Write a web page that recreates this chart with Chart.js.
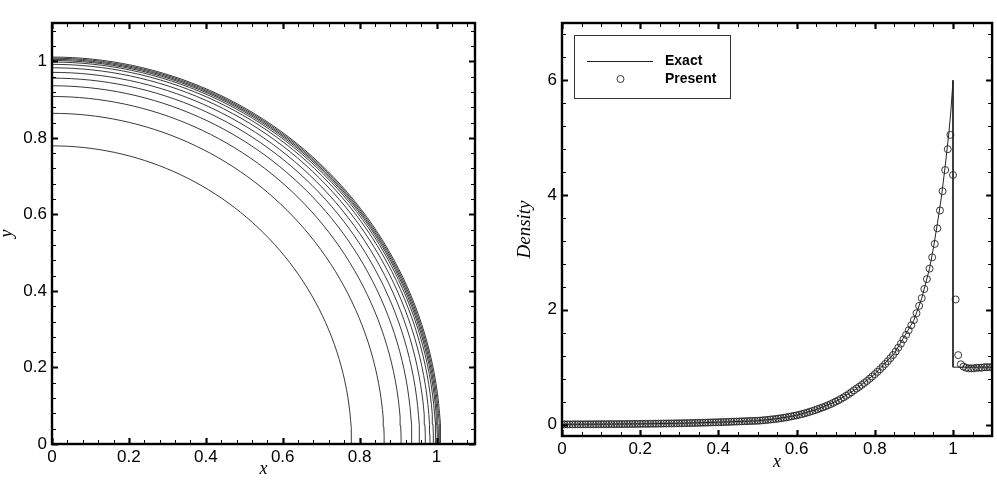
<!DOCTYPE html>
<html lang="en">
<head>
<meta charset="utf-8">
<title>Blast wave density contours and radial density profile</title>
<script src="https://cdn.jsdelivr.net/npm/chart.js"></script>
<style>
  html, body { margin: 0; padding: 0; background: #fff; }
  #wrap { position: relative; width: 997px; height: 492px; }
  #left { position: absolute; left: 0; top: 0; }
  #right { position: absolute; left: 497px; top: 0; }
</style>
</head>
<body>
<div id="wrap">
  <canvas id="left" width="497" height="492"></canvas>
  <canvas id="right" width="500" height="492"></canvas>
</div>
<script>
// left panel: radii of the density contour lines (quarter circles)
const contourRadii = [0.779, 0.864, 0.908, 0.936, 0.956, 0.971, 0.983, 0.992, 0.998, 1.002, 1.005, 1.008, 1.011];

// right panel: exact solution
const exactX = [0, 0.1, 0.2, 0.3, 0.4, 0.5, 0.55, 0.6, 0.65, 0.7, 0.75, 0.8, 0.85, 0.9, 0.92, 0.94, 0.95, 0.96, 0.97, 0.98, 0.99, 0.995, 1.0, 1.0, 1.1];
const exactRho = [0.003, 0.006, 0.012, 0.022, 0.04, 0.065, 0.1, 0.16, 0.26, 0.40, 0.61, 0.88, 1.24, 1.82, 2.2, 2.72, 3.08, 3.5, 3.95, 4.5, 5.12, 5.5, 6.0, 1.0, 1.0];

// right panel: computed ("Present") density, one value per cell, cell size 1/150
const presentDx = 1 / 150;
const presentRho = [
  0.003,0.003,0.003,0.003,0.003,0.004,0.004,0.004,0.004,0.004,0.005,0.005,0.005,0.005,0.006,
  0.006,0.006,0.006,0.007,0.007,0.007,0.008,0.008,0.008,0.009,0.009,0.010,0.010,0.011,0.011,
  0.012,0.012,0.013,0.013,0.014,0.014,0.015,0.016,0.016,0.017,0.018,0.019,0.019,0.020,0.021,
  0.022,0.023,0.024,0.025,0.026,0.027,0.028,0.029,0.030,0.031,0.033,0.034,0.036,0.037,0.039,
  0.040,0.042,0.043,0.045,0.047,0.048,0.050,0.052,0.054,0.056,0.058,0.059,0.061,0.062,0.064,
  0.065,0.069,0.073,0.077,0.082,0.087,0.092,0.097,0.103,0.110,0.117,0.125,0.133,0.142,0.151,
  0.160,0.171,0.182,0.194,0.207,0.221,0.235,0.251,0.267,0.283,0.299,0.317,0.336,0.355,0.376,
  0.399,0.422,0.447,0.473,0.501,0.531,0.562,0.595,0.628,0.658,0.691,0.725,0.760,0.798,0.837,
  0.878,0.919,0.963,1.008,1.055,1.105,1.157,1.212,1.272,1.339,1.409,1.484,1.562,1.644,1.731,
  1.822,1.941,2.068,2.203,2.363,2.535,2.718,2.915,3.149,3.421,3.732,4.068,4.437,4.80,5.05,
  4.35,2.18,1.21,1.05,1.01,0.99,0.98,0.98,0.98,0.99,0.99,0.99,1.00,1.00,1.00,1.00
];

const legendLabels = ['Exact', 'Present'];

const tickFont = { family: 'Liberation Sans', size: 17 };
const titleFont = { family: 'Liberation Serif', size: 18, style: 'italic' };
const ink = '#222';

// tecplot-like frame: heavy border with inward ticks on all four sides
const frameTicks = {
  id: 'frameTicks',
  afterDraw(chart, args, o) {
    const { ctx, chartArea: a, scales: { x, y } } = chart;
    const marks = (sc, step) => {
      const out = [];
      const k0 = Math.ceil(sc.min / step - 1e-6);
      for (let k = k0; k * step <= sc.max + 1e-9; k++) out.push(k * step);
      return out;
    };
    ctx.save();
    ctx.strokeStyle = '#000';
    const drawSet = (major, len, lw) => {
      ctx.lineWidth = lw;
      ctx.beginPath();
      marks(x, major ? o.xMajor : o.xMinor).forEach(v => {
        const p = Math.round(x.getPixelForValue(v)) + 0.5;
        ctx.moveTo(p, a.bottom); ctx.lineTo(p, a.bottom - len);
        ctx.moveTo(p, a.top); ctx.lineTo(p, a.top + len);
      });
      marks(y, major ? o.yMajor : o.yMinor).forEach(v => {
        const p = Math.round(y.getPixelForValue(v)) + 0.5;
        ctx.moveTo(a.left, p); ctx.lineTo(a.left + len, p);
        ctx.moveTo(a.right, p); ctx.lineTo(a.right - len, p);
      });
      ctx.stroke();
    };
    drawSet(false, 4, 1);
    drawSet(true, 6, 2.2);
    ctx.lineWidth = 2.4;
    ctx.strokeRect(a.left, a.top, a.right - a.left, a.bottom - a.top);
    ctx.restore();
  }
};

// boxed legend in the upper left corner of the plot
const boxLegend = {
  id: 'boxLegend',
  afterDraw(chart) {
    if (!chart.options.plugins.boxLegend) return;
    const { ctx, chartArea: a } = chart;
    const bx = a.left + 12, by = a.top + 12;
    ctx.save();
    ctx.strokeStyle = '#333';
    ctx.lineWidth = 1;
    ctx.strokeRect(bx + 0.5, by + 0.5, 156, 63);
    ctx.strokeStyle = ink;
    ctx.beginPath();
    ctx.moveTo(bx + 13, by + 26.5); ctx.lineTo(bx + 79, by + 26.5);
    ctx.stroke();
    ctx.lineWidth = 0.9;
    ctx.beginPath();
    ctx.arc(bx + 46.5, by + 44, 3.5, 0, Math.PI * 2);
    ctx.stroke();
    ctx.fillStyle = '#000';
    ctx.font = 'bold 14px "Liberation Sans"';
    ctx.textBaseline = 'middle';
    ctx.fillText(legendLabels[0], bx + 91, by + 26);
    ctx.fillText(legendLabels[1], bx + 91, by + 44);
    ctx.restore();
  }
};

function axis(min, max, step, title, pad, titlePad, size, font) {
  return {
    type: 'linear', min, max,
    grid: { display: false, drawTicks: false },
    border: { display: false },
    ticks: { stepSize: step, includeBounds: false, autoSkip: false, maxRotation: 0,
             color: '#000', font: tickFont, padding: pad,
             callback: v => String(+v.toFixed(2)) },
    title: { display: true, text: title, color: '#000', font: font || titleFont, padding: titlePad },
    afterFit(sc) { if (sc.isHorizontal()) sc.height = size; else sc.width = size; }
  };
}

// left chart: contour lines
const arcSteps = 60;
const contourSets = contourRadii.map(r => ({
  data: Array.from({ length: arcSteps + 1 }, (_, k) => {
    const t = (Math.PI / 2) * k / arcSteps;
    return { x: r * Math.cos(t), y: r * Math.sin(t) };
  }),
  showLine: true, borderColor: ink, borderWidth: 0.9, pointRadius: 0, tension: 0
}));

new Chart(document.getElementById('left'), {
  type: 'scatter',
  data: { datasets: contourSets },
  options: {
    responsive: false, animation: false, devicePixelRatio: 1,
    layout: { padding: { left: 0, top: 23, right: 22, bottom: 0 } },
    plugins: { legend: { display: false }, tooltip: { enabled: false },
               frameTicks: { xMajor: 0.2, xMinor: 0.04, yMajor: 0.2, yMinor: 0.04 } },
    scales: {
      x: axis(0, 1.1, 0.2, 'x', 3, { bottom: 12 }, 48),
      y: axis(0, 1.1, 0.2, 'y', 5, { top: -4 }, 52)
    }
  },
  plugins: [frameTicks]
});

// right chart: density profile
new Chart(document.getElementById('right'), {
  type: 'scatter',
  data: {
    datasets: [
      { label: legendLabels[0], data: exactX.map((v, i) => ({ x: v, y: exactRho[i] })),
        showLine: true, borderColor: ink, borderWidth: 1, pointRadius: 0, tension: 0 },
      { label: legendLabels[1], data: presentRho.map((v, i) => ({ x: i * presentDx, y: v })),
        pointStyle: 'circle', pointRadius: 3.5, borderWidth: 0.9, borderColor: ink,
        backgroundColor: 'rgba(0,0,0,0)' }
    ]
  },
  options: {
    responsive: false, animation: false, devicePixelRatio: 1,
    layout: { padding: { left: 0, top: 23, right: 4, bottom: 0 } },
    plugins: { legend: { display: false }, tooltip: { enabled: false }, boxLegend: true,
               frameTicks: { xMajor: 0.2, xMinor: 0.05, yMajor: 2, yMinor: 0.4 } },
    scales: {
      x: axis(0, 1.1, 0.2, 'x', 3, { bottom: 19 }, 56),
      y: axis(-0.2, 7, 2, 'Density', 5, { top: 17 }, 65,
              { family: 'Liberation Serif', size: 19, style: 'italic' })
    }
  },
  plugins: [frameTicks, boxLegend]
});
</script>
</body>
</html>
